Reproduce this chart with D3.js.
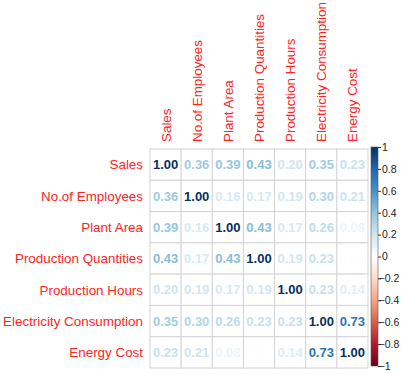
<!DOCTYPE html>
<html>
<head>
<meta charset="utf-8">
<style>
  body { margin: 0; background: #fff; }
  text { font-family: "Liberation Sans", Arial, sans-serif; }
</style>
</head>
<body>
<div id="chart"></div>
<script src="https://d3js.org/d3.v7.min.js"></script>
<script>
var labels = ["Sales", "No.of Employees", "Plant Area", "Production Quantities",
  "Production Hours", "Electricity Consumption", "Energy Cost"];

// correlation rows, same order as labels
var sales     = [1.00, 0.36, 0.39, 0.43, 0.20, 0.35, 0.23];
var employees = [0.36, 1.00, 0.16, 0.17, 0.19, 0.30, 0.21];
var plantArea = [0.39, 0.16, 1.00, 0.43, 0.17, 0.26, 0.08];
var prodQty   = [0.43, 0.17, 0.43, 1.00, 0.19, 0.23, 0.01];
var prodHours = [0.20, 0.19, 0.17, 0.19, 1.00, 0.23, 0.14];
var elec      = [0.35, 0.30, 0.26, 0.23, 0.23, 1.00, 0.73];
var energy    = [0.23, 0.21, 0.08, 0.01, 0.14, 0.73, 1.00];
var corr = [sales, employees, plantArea, prodQty, prodHours, elec, energy];

var legendTicks = [1, 0.8, 0.6, 0.4, 0.2, 0, -0.2, -0.4, -0.6, -0.8, -1];
var palette = ["#67001F", "#B2182B", "#D6604D", "#F4A582", "#FDDBC7", "#FFFFFF",
  "#D1E5F0", "#92C5DE", "#4393C3", "#2166AC", "#053061"];

var w = 401, h = 374;
var svg = d3.select("#chart").append("svg").attr("width", w).attr("height", h);

var x = d3.scaleBand().domain(labels).range([150, 368]);
var y = d3.scaleBand().domain(labels).range([149, 368]);
var color = d3.scaleLinear().domain(d3.range(palette.length).map(function (i) { return -1 + i * 0.2; }))
  .range(palette);

var cells = [];
corr.forEach(function (row, i) {
  row.forEach(function (v, j) { cells.push({ r: labels[i], c: labels[j], v: v }); });
});

// grid
svg.selectAll("rect.cell").data(cells).enter().append("rect")
  .attr("class", "cell")
  .attr("x", function (d) { return x(d.c); })
  .attr("y", function (d) { return y(d.r); })
  .attr("width", x.bandwidth())
  .attr("height", y.bandwidth())
  .attr("fill", "#fff")
  .attr("stroke", "#d4d4d4")
  .attr("stroke-width", 1);

// numbers
svg.selectAll("text.num").data(cells).enter().append("text")
  .attr("class", "num")
  .attr("x", function (d) { return x(d.c) + x.bandwidth() / 2; })
  .attr("y", function (d) { return y(d.r) + y.bandwidth() / 2; })
  .attr("dy", "0.36em")
  .attr("text-anchor", "middle")
  .attr("font-size", 13)
  .attr("font-weight", "bold")
  .attr("fill", function (d) { return color(d.v); })
  .text(function (d) { return d.v.toFixed(2); });

// row labels
svg.selectAll("text.rowlab").data(labels).enter().append("text")
  .attr("class", "rowlab")
  .attr("x", 143)
  .attr("y", function (d) { return y(d) + y.bandwidth() / 2; })
  .attr("dy", "0.36em")
  .attr("text-anchor", "end")
  .attr("font-size", 13.4)
  .attr("fill", "#ff2424")
  .text(function (d) { return d; });

// column labels
svg.selectAll("text.collab").data(labels).enter().append("text")
  .attr("class", "collab")
  .attr("transform", function (d) {
    return "translate(" + (x(d) + x.bandwidth() / 2 + 5) + ",142) rotate(-90)";
  })
  .attr("text-anchor", "start")
  .attr("font-size", 13.4)
  .attr("fill", "#ff2424")
  .text(function (d) { return d; });

// colour bar
var grad = svg.append("defs").append("linearGradient")
  .attr("id", "cbar").attr("x1", 0).attr("y1", 1).attr("x2", 0).attr("y2", 0);
palette.forEach(function (c, i) {
  grad.append("stop").attr("offset", i / (palette.length - 1)).attr("stop-color", c);
});
var yBar = d3.scaleLinear().domain([-1, 1]).range([366, 147]);
svg.append("rect")
  .attr("x", 371).attr("y", yBar(1))
  .attr("width", 7).attr("height", yBar(-1) - yBar(1))
  .attr("fill", "url(#cbar)")
  .attr("stroke", "#555").attr("stroke-width", 0.6);

var axis = d3.axisRight(yBar).tickValues(legendTicks).tickSize(3).tickPadding(1)
  .tickFormat(function (d) { return d3.format("")(Math.round(d * 10) / 10); });
var ag = svg.append("g").attr("transform", "translate(378,0)").call(axis);
ag.select(".domain").remove();
ag.selectAll("line").attr("stroke", "#333");
// negative labels start at the bar, their minus sign sitting over the tick
ag.selectAll("text")
  .attr("x", function (d) { return d < 0 ? 0.5 : 4; })
  .attr("font-size", 10.5).attr("fill", "#222")
  .attr("font-family", "'Liberation Sans', Arial, sans-serif");
</script>
</body>
</html>
